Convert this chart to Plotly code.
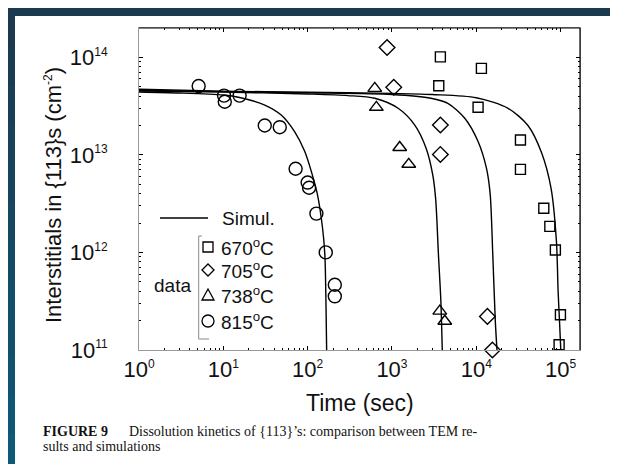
import plotly.graph_objects as go

# ---------------- data ----------------
# measured data points: time (s), interstitials in {113}s (cm^-2)
t_670 = [3750, 11500, 3590, 10500, 33400, 33400, 63200, 74500, 86700, 99500, 96000]
n_670 = [1.01e14, 7.7e13, 5.1e13, 3.07e13, 1.42e13, 7.1e12, 2.84e12, 1.85e12, 1.06e12, 2.3e11, 1.13e11]

t_705 = [875, 1050, 3750, 3750, 13550, 15530]
n_705 = [1.26e14, 4.92e13, 2.02e13, 1.01e13, 2.21e11, 1.0e11]

t_738 = [625, 653, 1236, 1581, 3690, 4230]
n_738 = [4.8e13, 3.07e13, 1.19e13, 8.0e12, 2.5e11, 1.97e11]

t_815 = [5.1, 10.2, 10.4, 15.6, 31, 46.7, 72, 100, 104, 127, 164, 210, 210]
n_815 = [5.07e13, 4.05e13, 3.5e13, 4.05e13, 2.0e13, 1.92e13, 7.2e12, 5.2e12, 4.6e12, 2.5e12, 1.0e12, 4.66e11, 3.55e11]

# simulation curves
sim_t_670 = [1, 10, 100, 1000, 3000, 10000, 23800, 41000, 59500, 77000, 89200, 93400, 97000, 100500]
sim_n_670 = [4.7e13, 4.5e13, 4.38e13, 4.27e13, 4.15e13, 3.85e13, 3.0e13, 2.0e13, 1.05e13, 4.55e12, 1.3e12, 4.0e11, 2.0e11, 1.0e11]

sim_t_705 = [1, 10, 100, 1000, 2900, 4600, 7300, 10500, 13200, 14600, 15700, 16800, 17600]
sim_n_705 = [4.6e13, 4.45e13, 4.32e13, 4.15e13, 3.8e13, 3.37e13, 2.37e13, 1.37e13, 7.3e12, 4.0e12, 9.4e11, 2.0e11, 1.0e11]

sim_t_738 = [1, 10, 100, 300, 625, 1183, 1864, 2540, 3050, 3300, 3560, 3800, 3950]
sim_n_738 = [4.5e13, 4.4e13, 4.2e13, 4.05e13, 3.8e13, 3.0e13, 2.02e13, 1.17e13, 6.2e12, 3.5e12, 9.4e11, 3.2e11, 1.0e11]

sim_t_815 = [1, 3, 10, 15.6, 31, 48.6, 70, 92.5, 112, 130, 150, 160, 165, 168]
sim_n_815 = [4.4e13, 4.3e13, 4.1e13, 3.87e13, 3.24e13, 2.56e13, 1.73e13, 1.08e13, 6.5e12, 4.0e12, 1.8e12, 9.5e11, 3.0e11, 1.0e11]

x_tickvals = [1, 10, 100, 1000, 10000, 100000]
x_exponents = ["0", "1", "2", "3", "4", "5"]
y_tickvals = [1e11, 1e12, 1e13, 1e14]
y_exponents = ["11", "12", "13", "14"]

legend_labels = ["670<sup>o</sup>C", "705<sup>o</sup>C", "738<sup>o</sup>C", "815<sup>o</sup>C"]


def pow_label(e):
    return "10<sup><span style='font-size:12px'>%s</span></sup>" % e


x_ticktext = [pow_label(e) for e in x_exponents]
y_ticktext = [pow_label(e) for e in y_exponents]

# ---------------- layout helpers ----------------
W, H = 618, 464
L, R, T, B = 131, 46, 20, 122
PW, PH = W - L - R, H - T - B


def X(px):
    return (px - L) / PW


def Y(py):
    return (H - B - py) / PH


SANS = "Liberation Sans, Arial, Helvetica, sans-serif"
SERIF = "Liberation Serif, Times New Roman, serif"
INK = "#111111"

fig = go.Figure()

for tt, nn in [(sim_t_670, sim_n_670), (sim_t_705, sim_n_705), (sim_t_738, sim_n_738), (sim_t_815, sim_n_815)]:
    fig.add_trace(go.Scatter(x=tt, y=nn, mode="lines", showlegend=False,
                             line=dict(color="black", width=1.4, shape="spline", smoothing=0.8),
                             hoverinfo="skip"))

for tt, nn, sym, size, name in [
    (t_670, n_670, "square-open", 10, "670°C"),
    (t_705, n_705, "diamond-open", 12, "705°C"),
    (t_738, n_738, "triangle-up-open", 12, "738°C"),
    (t_815, n_815, "circle-open", 13, "815°C"),
]:
    fig.add_trace(go.Scatter(x=tt, y=nn, mode="markers", name=name, showlegend=False,
                             cliponaxis=False,
                             marker=dict(symbol=sym, size=size, color="black",
                                         line=dict(color="black", width=1.4))))

minor_x = [m * 10 ** d for d in range(0, 6) for m in range(2, 10)]
minor_y = [m * 10 ** d for d in range(11, 15) for m in range(2, 10)]

axis_common = dict(type="log", showgrid=False, zeroline=False, showline=True,
                   linecolor="#9a9a9a", linewidth=1, mirror="allticks",
                   ticks="inside", ticklen=4, tickcolor="black", tickwidth=1,
                   tickfont=dict(family=SANS, size=22, color=INK), automargin=False)

fig.update_xaxes(range=[0, 5.23], tickmode="array", tickvals=x_tickvals, ticktext=x_ticktext,
                 minor=dict(tickmode="array", tickvals=minor_x, ticks="inside", ticklen=2,
                            tickcolor="black", tickwidth=1),
                 ticklabelstandoff=0, **axis_common)
fig.update_yaxes(range=[11, 14.3], tickmode="array", tickvals=y_tickvals, ticktext=y_ticktext,
                 minor=dict(tickmode="array", tickvals=minor_y, ticks="inside", ticklen=2,
                            tickcolor="black", tickwidth=1),
                 ticklabelstandoff=26, **axis_common)

shapes = []
# page background: dark border and white sheet
shapes.append(dict(type="rect", xref="paper", yref="paper", x0=X(0), x1=X(W), y0=Y(H), y1=Y(0),
                   fillcolor="#1b3a4f", line=dict(width=0), layer="below"))
n_seg = 12
c0 = (27, 58, 79)
c1 = (14, 88, 120)
for i in range(n_seg):
    f = i / (n_seg - 1)
    col = "rgb(%d,%d,%d)" % tuple(int(a + (b - a) * f) for a, b in zip(c0, c1))
    shapes.append(dict(type="rect", xref="paper", yref="paper", x0=X(0), x1=X(8),
                       y0=Y(H * (i + 1) / n_seg + 1), y1=Y(H * i / n_seg),
                       fillcolor=col, line=dict(width=0), layer="below"))
shapes.append(dict(type="rect", xref="paper", yref="paper", x0=X(7), x1=X(606), y0=Y(H), y1=Y(8),
                   fillcolor="white", line=dict(width=0), layer="below"))
# black top and right frame lines
shapes.append(dict(type="line", xref="paper", yref="paper", x0=0, x1=1, y0=1, y1=1,
                   line=dict(color="black", width=1.2)))
shapes.append(dict(type="line", xref="paper", yref="paper", x0=1, x1=1, y0=0, y1=1,
                   line=dict(color="black", width=1.2)))

# legend: simulation line sample
shapes.append(dict(type="line", xref="paper", yref="paper", x0=X(152), x1=X(200), y0=Y(210), y1=Y(210),
                   line=dict(color="black", width=1.4)))
# bracket for data group
shapes.append(dict(type="path", xref="paper", yref="paper",
                   path="M %f %f L %f %f L %f %f L %f %f" % (X(194), Y(228), X(190.7), Y(228),
                                                             X(190.7), Y(331), X(201), Y(331)),
                   line=dict(color="#8a8a8a", width=1)))
# legend symbols
ly = [239, 262, 287, 313]
lx = 200
s = 5
shapes.append(dict(type="rect", xref="paper", yref="paper", x0=X(lx - s), x1=X(lx + s),
                   y0=Y(ly[0] + s), y1=Y(ly[0] - s), line=dict(color="black", width=1.3)))
d = 6
shapes.append(dict(type="path", xref="paper", yref="paper",
                   path="M %f %f L %f %f L %f %f L %f %f Z" % (X(lx - d), Y(ly[1]), X(lx), Y(ly[1] - d),
                                                               X(lx + d), Y(ly[1]), X(lx), Y(ly[1] + d)),
                   line=dict(color="black", width=1.3)))
shapes.append(dict(type="path", xref="paper", yref="paper",
                   path="M %f %f L %f %f L %f %f Z" % (X(lx - 6), Y(ly[2] + 5), X(lx), Y(ly[2] - 6),
                                                       X(lx + 6), Y(ly[2] + 5)),
                   line=dict(color="black", width=1.3)))
shapes.append(dict(type="circle", xref="paper", yref="paper", x0=X(lx - 6), x1=X(lx + 6),
                   y0=Y(ly[3] + 6), y1=Y(ly[3] - 6), line=dict(color="black", width=1.3)))

annotations = []
annotations.append(dict(text="Simul.", x=X(212), y=Y(210), xref="paper", yref="paper",
                        xanchor="left", yanchor="middle", showarrow=False,
                        font=dict(family=SANS, size=19, color=INK)))
for lab, yy in zip(legend_labels, ly):
    annotations.append(dict(text=lab, x=X(211), y=Y(yy), xref="paper", yref="paper",
                            xanchor="left", yanchor="middle", showarrow=False,
                            font=dict(family=SANS, size=19, color=INK)))
annotations.append(dict(text="data", x=X(164), y=Y(277), xref="paper", yref="paper",
                        xanchor="center", yanchor="middle", showarrow=False,
                        font=dict(family=SANS, size=19, color=INK)))
# axis titles
annotations.append(dict(text="Interstitials in {113}s (cm<sup><span style='font-size:12px'>-2</span></sup>)",
                        x=X(46), y=Y(187),
                        xref="paper", yref="paper", xanchor="center", yanchor="middle",
                        textangle=-90, showarrow=False,
                        font=dict(family=SANS, size=22, color=INK)))
annotations.append(dict(text="Time (sec)", x=X(351.5), y=Y(395), xref="paper", yref="paper",
                        xanchor="center", yanchor="middle", showarrow=False,
                        font=dict(family=SANS, size=23, color=INK)))
# caption
nb = "\u00a0"
annotations.append(dict(text="<b>FIGURE 9</b>" + nb * 6 + "Dissolution kinetics of {113}’s: comparison between TEM re-",
                        x=X(33), y=Y(423), xref="paper", yref="paper", xanchor="left", yanchor="middle",
                        showarrow=False, font=dict(family=SERIF, size=14, color=INK)))
annotations.append(dict(text="sults and simulations",
                        x=X(33), y=Y(438), xref="paper", yref="paper", xanchor="left", yanchor="middle",
                        showarrow=False, font=dict(family=SERIF, size=14, color=INK)))

fig.update_layout(width=W, height=H, margin=dict(l=L, r=R, t=T, b=B, pad=0),
                  paper_bgcolor="white", plot_bgcolor="white",
                  shapes=shapes, annotations=annotations, showlegend=False)

fig.write_html("out.html")
